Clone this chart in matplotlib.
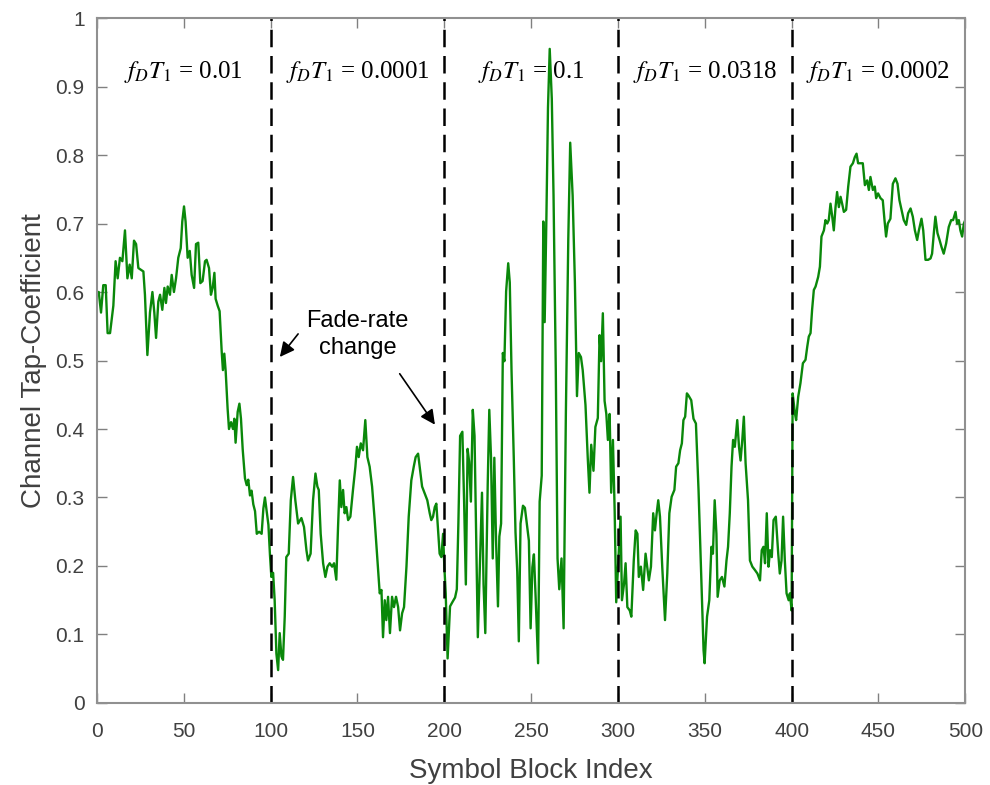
import numpy as np
import matplotlib
matplotlib.use("Agg")
import matplotlib.pyplot as plt

plt.rcParams['font.family'] = ['Liberation Sans', 'DejaVu Sans']
plt.rcParams['mathtext.fontset'] = 'stix'

# block index / tap coefficient
seg1_x = [0, 1, 2.3, 3.6, 5, 6.1, 7.5, 9.4, 10.7, 11.9, 13.2, 14.6, 16.1, 17.5, 18.8, 20,
          21.3, 22.5, 23.8, 26.7, 27.6, 29, 30.5, 31.9, 33, 34, 35.3, 36.3, 37.6, 38.8,
          39.7, 40.7, 42, 43, 44.3, 45.5, 46.8, 48.2, 49.1, 50.1, 51, 52.2, 53.4, 54.5,
          55.9, 57, 58.3, 59.5, 60.8, 62.2, 63.1, 64.5, 65.6, 66.6, 67.6, 68.3, 69.5,
          70.6, 71.8, 72.5, 73.3, 74.1, 75.2, 76, 77.2, 78.3, 79.1, 79.8, 81, 82, 82.9,
          83.9, 85.2, 86.2, 87.1, 88.1, 89, 90, 91, 92, 93.3, 94.8, 95.8, 96.7, 97.7,
          98.7, 99.6]
seg1_y = [0.60, 0.60, 0.57, 0.61, 0.61, 0.54, 0.54, 0.58, 0.645, 0.62, 0.65, 0.645, 0.69,
          0.62, 0.64, 0.62, 0.675, 0.67, 0.635, 0.63, 0.596, 0.508, 0.57, 0.60, 0.57,
          0.533, 0.586, 0.596, 0.574, 0.606, 0.584, 0.608, 0.596, 0.625, 0.60, 0.62,
          0.65, 0.664, 0.703, 0.725, 0.703, 0.65, 0.66, 0.625, 0.606, 0.67, 0.672,
          0.613, 0.616, 0.645, 0.647, 0.635, 0.596, 0.606, 0.628, 0.59, 0.58, 0.572,
          0.513, 0.486, 0.51, 0.484, 0.43, 0.40, 0.41, 0.40, 0.415, 0.38, 0.425, 0.437,
          0.415, 0.37, 0.328, 0.318, 0.326, 0.303, 0.31, 0.29, 0.28, 0.247, 0.25, 0.247,
          0.284, 0.30, 0.28, 0.26, 0.216]

seg2_x = [100.4, 101.4, 102.3, 103.3, 104.3, 105.2, 106.2, 107.1, 108.1, 109, 110.4,
          111.6, 112.9, 114.2, 115.8, 117.7, 119.2, 120.6, 121.5, 123, 124.4, 125.8,
          126.9, 127.7, 128.8, 130.2, 131.5, 132.7, 134, 135.4, 136.5, 137.8, 138.8,
          139.8, 140.7, 141.7, 142.6, 143.6, 144.6, 145.9, 147.4, 148.8, 149.7, 150.7,
          151.9, 153.2, 154.5, 155.7, 157, 158.4, 159.9, 161.5, 162.8, 163.8, 164.7,
          165.7, 166.6, 167.6, 168.7, 169.9, 171, 172.2, 173.4, 174.5, 175.7, 176.8,
          178.2, 179.5, 181, 182.4, 183.5, 184.9, 185.8, 187.2, 188.7, 190.2, 191.6,
          192.5, 193.5, 194.5, 195.4, 196.4, 197.3, 198.3, 199.3]
seg2_y = [0.184, 0.19, 0.15, 0.072, 0.048, 0.102, 0.068, 0.063, 0.126, 0.213, 0.218,
          0.296, 0.33, 0.296, 0.262, 0.27, 0.257, 0.223, 0.208, 0.218, 0.296, 0.335,
          0.316, 0.311, 0.247, 0.204, 0.184, 0.199, 0.204, 0.199, 0.204, 0.18, 0.257,
          0.325, 0.286, 0.311, 0.277, 0.286, 0.267, 0.272, 0.311, 0.345, 0.374, 0.359,
          0.379, 0.369, 0.413, 0.359, 0.345, 0.316, 0.267, 0.208, 0.16, 0.165, 0.096,
          0.15, 0.121, 0.155, 0.102, 0.155, 0.14, 0.155, 0.14, 0.106, 0.131, 0.14,
          0.199, 0.272, 0.325, 0.345, 0.359, 0.364, 0.345, 0.316, 0.306, 0.296, 0.277,
          0.267, 0.272, 0.286, 0.291, 0.252, 0.218, 0.213, 0.247]

seg3_x = [200, 200.8, 201.9, 203.3, 204.6, 206.2, 207.2, 208.1, 209.1, 210.4, 211.4,
          212.4, 213.4, 214.3, 215.3, 216.4, 217.4, 218.4, 219.3, 220.7, 221.7, 222.6,
          223.6, 225, 225.9, 226.9, 227.9, 228.8, 229.8, 230.9, 231.7, 232.7, 233.7,
          234.6, 235.6, 236.8, 237.7, 238.7, 240, 241, 242, 242.9, 243.9, 245.3, 246.4,
          247.8, 248.7, 249.7, 250.7, 251.6, 252.6, 254, 254.9, 256.1, 257, 257.8,
          258.8, 259.7, 260.7, 261.9, 262.9, 264.2, 265.2, 266.2, 267.5, 268.7, 270,
          271.4, 272.5, 273.9, 275.2, 276.4, 277.4, 278.7, 279.7, 281.3, 282.6, 283.6,
          284.6, 285.9, 287, 288.4, 289.4, 290.3, 291.3, 292.3, 293.3, 294.2, 295.2,
          296.1, 297.1, 298.1, 299]
seg3_y = [0.20, 0.16, 0.065, 0.141, 0.147, 0.154, 0.166, 0.262, 0.39, 0.396, 0.294,
          0.173, 0.371, 0.352, 0.294, 0.428, 0.39, 0.23, 0.096, 0.217, 0.307, 0.173,
          0.102, 0.32, 0.428, 0.358, 0.211, 0.358, 0.237, 0.141, 0.243, 0.262, 0.511,
          0.499, 0.601, 0.642, 0.614, 0.486, 0.358, 0.249, 0.192, 0.09, 0.262, 0.288,
          0.285, 0.256, 0.237, 0.109, 0.198, 0.217, 0.154, 0.058, 0.294, 0.332, 0.703,
          0.556, 0.71, 0.869, 0.955, 0.882, 0.741, 0.486, 0.211, 0.166, 0.211, 0.109,
          0.422, 0.678, 0.818, 0.741, 0.614, 0.448, 0.511, 0.505, 0.486, 0.435, 0.358,
          0.307, 0.377, 0.339, 0.403, 0.416, 0.537, 0.499, 0.569, 0.441, 0.422, 0.384,
          0.422, 0.307, 0.384, 0.281, 0.147]

seg4_x = [300.4, 301.5, 302.3, 303.5, 304.4, 305.4, 306.8, 307.7, 309.1, 310.2, 311.2,
          312, 313.2, 314.5, 315.9, 316.8, 317.8, 319, 320.3, 321.3, 322.3, 323.2,
          324.2, 325.5, 327.1, 328.4, 329.6, 330.9, 332.5, 333.5, 334.8, 335.8, 336.8,
          337.7, 338.7, 339.7, 340.6, 342.2, 343.5, 344.9, 346.4, 348, 349.3, 349.9,
          351.3, 352.6, 353.8, 354.7, 355.7, 356.7, 357.4, 358.6, 359.9, 361.3, 362.5,
          363.4, 364.4, 365.4, 366.3, 367.3, 368.7, 369.7, 370.6, 371.6, 372.5, 373.5,
          374.9, 376, 377.4, 378.9, 380.3, 381.8, 382.8, 383.8, 384.7, 385.7, 386.7,
          387.6, 388.6, 389.6, 390.9, 392.3, 393.2, 394.2, 395.1, 396.1, 397.1, 398.3,
          399, 400]
seg4_y = [0.218, 0.272, 0.15, 0.174, 0.204, 0.14, 0.135, 0.126, 0.208, 0.252, 0.247,
          0.184, 0.199, 0.165, 0.218, 0.199, 0.179, 0.199, 0.277, 0.252, 0.277, 0.296,
          0.272, 0.199, 0.121, 0.189, 0.277, 0.301, 0.311, 0.345, 0.35, 0.369, 0.379,
          0.413, 0.418, 0.452, 0.449, 0.442, 0.415, 0.408, 0.311, 0.184, 0.077, 0.058,
          0.126, 0.15, 0.228, 0.218, 0.296, 0.247, 0.155, 0.179, 0.184, 0.17, 0.208,
          0.228, 0.277, 0.345, 0.384, 0.374, 0.413, 0.374, 0.354, 0.384, 0.418, 0.35,
          0.296, 0.208, 0.199, 0.194, 0.189, 0.179, 0.223, 0.228, 0.204, 0.277, 0.199,
          0.223, 0.213, 0.267, 0.272, 0.218, 0.189, 0.208, 0.272, 0.208, 0.16, 0.15,
          0.16, 0.135]

seg5_x = [400.6, 401.9, 402.6, 403.8, 405.1, 406.5, 408, 409, 409.9, 410.9, 411.8, 412.8,
          413.8, 415.3, 416.3, 417.2, 418.6, 419.5, 420.5, 421.4, 422.4, 423.4, 424.3,
          425.3, 426.2, 427.2, 428.2, 429.1, 430.1, 431.4, 432.6, 433.9, 435.3, 436.4,
          437.4, 438.3, 439.7, 441, 442.2, 443.5, 444.5, 445.4, 446.8, 447.9, 448.7,
          449.8, 451.2, 452.5, 453.5, 454.4, 455.4, 456.9, 458.3, 459.8, 461, 462.1,
          463.3, 464.6, 466, 467.1, 468.5, 469.8, 471, 472.3, 473.3, 474.8, 475.8,
          477.1, 478.6, 480, 480.9, 481.9, 482.8, 484, 485.2, 486.3, 487.6, 489, 490.5,
          491.9, 493, 494.4, 495.3, 496.3, 497.2, 498.2, 499.2, 500]
seg5_y = [0.452, 0.423, 0.413, 0.447, 0.467, 0.496, 0.501, 0.52, 0.535, 0.54, 0.574,
          0.603, 0.608, 0.622, 0.637, 0.681, 0.69, 0.705, 0.70, 0.705, 0.729, 0.71, 0.69,
          0.724, 0.746, 0.724, 0.739, 0.729, 0.717, 0.72, 0.754, 0.783, 0.788, 0.797,
          0.802, 0.788, 0.788, 0.788, 0.756, 0.763, 0.749, 0.768, 0.749, 0.754, 0.737,
          0.744, 0.737, 0.734, 0.705, 0.681, 0.70, 0.707, 0.758, 0.766, 0.758, 0.734,
          0.72, 0.705, 0.698, 0.715, 0.722, 0.71, 0.69, 0.676, 0.69, 0.707, 0.69, 0.647,
          0.647, 0.649, 0.656, 0.686, 0.71, 0.686, 0.676, 0.666, 0.656, 0.671, 0.695,
          0.705, 0.705, 0.717, 0.70, 0.705, 0.69, 0.681, 0.70, 0.705]

boundaries = [100, 200, 300, 400]
fade_rates = ['0.01', '0.0001', '0.1', '0.0318', '0.0002']
label_x = [50, 150, 250, 350, 450]

block_idx = np.concatenate([seg1_x, seg2_x, seg3_x, seg4_x, seg5_x])
tap_coef = np.concatenate([seg1_y, seg2_y, seg3_y, seg4_y, seg5_y])

fig = plt.figure(figsize=(9.9, 7.85), dpi=100)
ax = fig.add_axes([0.098, 0.1045, 0.877, 0.8725])

ax.plot(block_idx, tap_coef, color='#0a880a', lw=1.7)
for b in boundaries:
    ax.axvline(b, color='black', lw=1.8, linestyle=(0, (7, 3.5)))

for xc, r in zip(label_x, fade_rates):
    ax.text(xc, 0.921, r'$f_{D}T_{1}$ = ' + r, ha='center', va='center',
            fontsize=18, family='Liberation Serif')

ax.text(150, 0.538, 'Fade-rate\nchange', ha='center', va='center', fontsize=17,
        linespacing=1.3)
arrow = dict(arrowstyle='-|>', color='black', lw=1.2, mutation_scale=22)
ax.annotate('', xy=(104.3, 0.502), xytext=(116.8, 0.542), arrowprops=arrow)
ax.annotate('', xy=(195.5, 0.403), xytext=(173.4, 0.484), arrowprops=arrow)

ax.set_xlim(0, 500)
ax.set_ylim(0, 1)
ax.set_xticks(np.arange(0, 501, 50))
ax.set_yticks(np.arange(0, 1.01, 0.1))
ax.set_yticklabels(['0', '0.1', '0.2', '0.3', '0.4', '0.5', '0.6', '0.7', '0.8', '0.9', '1'])
ax.tick_params(direction='in', length=7, width=1, colors='#808080', labelcolor='#404040',
               labelsize=15, top=True, right=True)
ax.tick_params(axis='x', pad=14)
ax.tick_params(axis='y', pad=9)
for s in ax.spines.values():
    s.set_color('#909090')
    s.set_linewidth(1.5)

ax.set_xlabel('Symbol Block Index', fontsize=20, color='#404040', labelpad=12)
ax.set_ylabel('Channel Tap-Coefficient', fontsize=20, color='#404040', labelpad=6)

fig.savefig('out.png', dpi=100)
